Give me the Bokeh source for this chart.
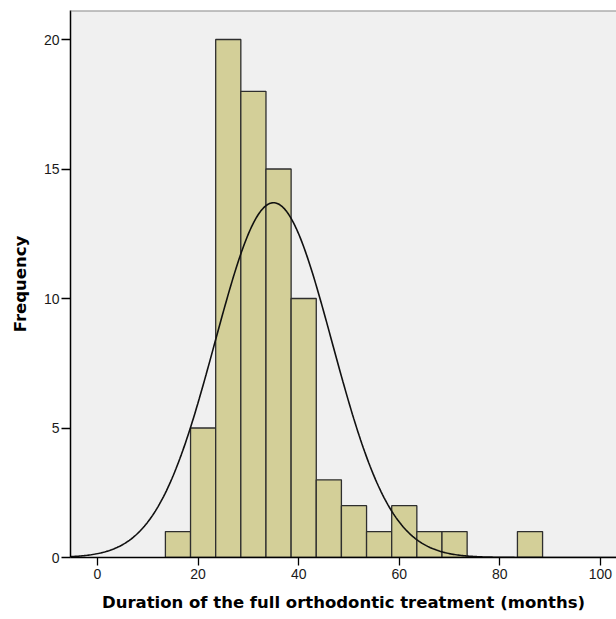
import numpy as np
from bokeh.plotting import figure
from bokeh.models import Range1d, FixedTicker, Span
from bokeh.embed import file_html
from bokeh.resources import INLINE

# Histogram bins (months): bin centres and counts
bin_centers = [16, 21, 26, 31, 36, 41, 46, 51, 56, 61, 66, 71, 76, 81, 86]
counts = [1, 5, 20, 18, 15, 10, 3, 2, 1, 2, 1, 1, 0, 0, 1]
bin_width = 5
# Fitted normal curve parameters
curve_mean = 35.0
curve_sd = 11.65
n_total = sum(counts)

x_ticks = [0, 20, 40, 60, 80, 100]
y_ticks = [0, 5, 10, 15, 20]

p = figure(width=616, height=619, output_backend="svg", toolbar_location=None,
           x_range=Range1d(-5.37, 103.2), y_range=Range1d(0, 21.12),
           min_border_left=70, min_border_top=10, min_border_bottom=62, min_border_right=0)

p.background_fill_color = "white"
p.border_fill_color = "white"
p.outline_line_color = None
p.xgrid.visible = False
p.ygrid.visible = False

lefts = [c - bin_width / 2 for c, k in zip(bin_centers, counts) if k > 0]
rights = [c + bin_width / 2 for c, k in zip(bin_centers, counts) if k > 0]
tops = [k for k in counts if k > 0]

# plot area background
p.quad(left=[-5.37], right=[103.2], bottom=[0], top=[21.12], fill_color="#F0F0F0", line_color=None)

p.quad(left=lefts, right=rights, bottom=0, top=tops,
       fill_color="#D3CF98", line_color="#2E2E2E", line_width=1.3)

xs = np.linspace(-5.37, 103.2, 400)
ys = n_total * bin_width * np.exp(-0.5 * ((xs - curve_mean) / curve_sd) ** 2) / (curve_sd * np.sqrt(2 * np.pi))
p.line(xs, ys, line_color="#111111", line_width=1.6)

p.add_layout(Span(location=21.12, dimension="width", line_color="#8A8A8A", line_width=2))

for ax in (p.xaxis[0], p.yaxis[0]):
    ax.axis_line_color = "black"
    ax.axis_line_width = 1.5
    ax.major_tick_line_color = "black"
    ax.major_tick_line_width = 1.3
    ax.major_tick_in = 0
    ax.minor_tick_line_color = None
    ax.major_label_text_font = "Liberation Sans"
    ax.major_label_text_font_size = "14px"
    ax.major_label_text_color = "#1A1A1A"
    ax.axis_label_text_font = "DejaVu Sans"
    ax.axis_label_text_font_style = "bold"
    ax.axis_label_text_font_size = "16.5px"
    ax.axis_label_text_color = "black"

p.xaxis[0].ticker = FixedTicker(ticks=x_ticks)
p.yaxis[0].ticker = FixedTicker(ticks=y_ticks)
p.xaxis[0].major_tick_out = 8
p.yaxis[0].major_tick_out = 9
p.xaxis[0].major_label_standoff = 3
p.yaxis[0].major_label_standoff = 2
p.xaxis[0].axis_label = "Duration of the full orthodontic treatment (months)"
p.yaxis[0].axis_label = "Frequency"
p.xaxis[0].axis_label_standoff = 11
p.yaxis[0].axis_label_standoff = 11

open("out.html", "w").write(file_html(p, INLINE))
